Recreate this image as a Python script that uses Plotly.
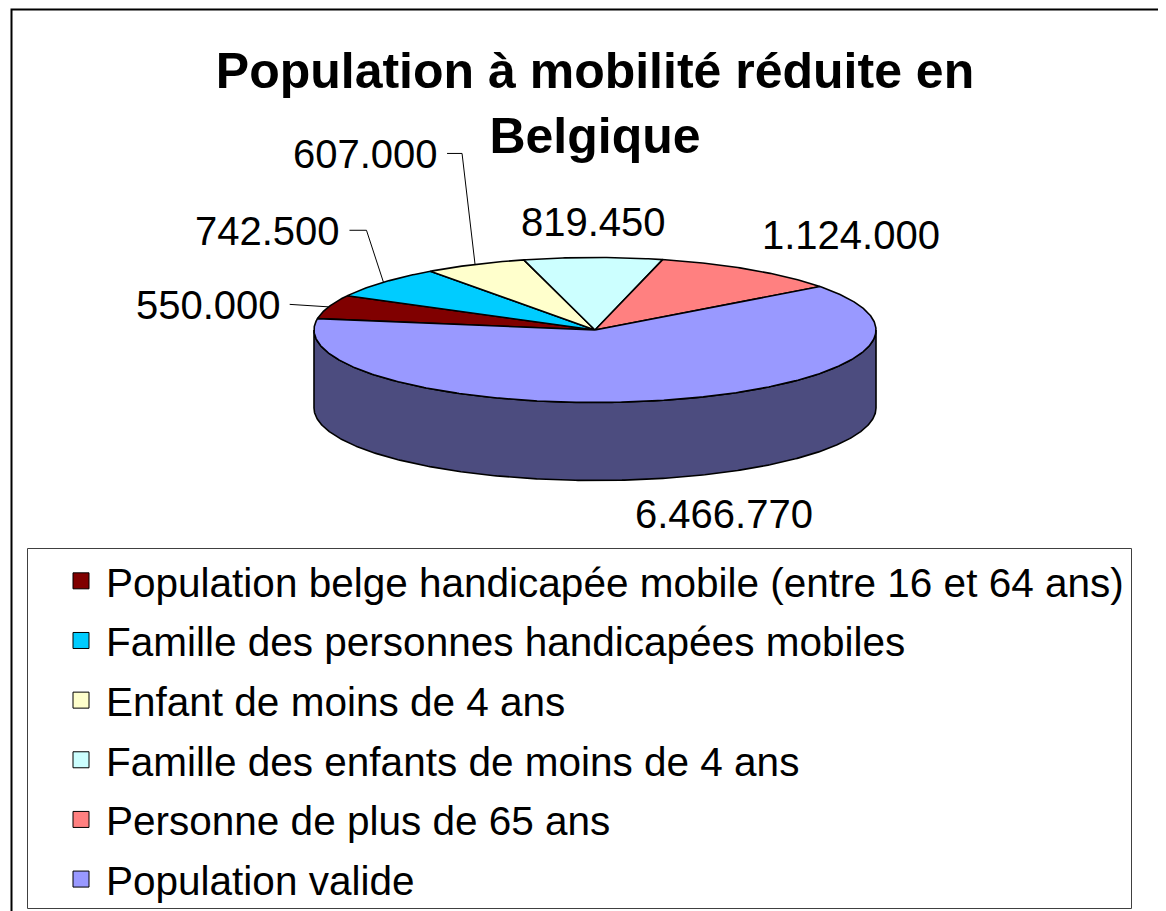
import math
import plotly.graph_objects as go

# ---------------- data ----------------
CATEGORIES = [
    "Population belge handicapée mobile (entre 16 et 64 ans)",
    "Famille des personnes handicapées mobiles",
    "Enfant de moins de 4 ans",
    "Famille des enfants de moins de 4 ans",
    "Personne de plus de 65 ans",
    "Population valide",
]
VALUES = [550000, 742500, 607000, 819450, 1124000, 6466770]
COLORS = ["#800000", "#00CCFF", "#FFFFCC", "#CCFFFF", "#FF8080", "#9999FF"]
TITLE = "Population à mobilité réduite en<br>Belgique"

# ---------------- geometry / style (page pixel space) ----------------
W, H = 1166, 911
OFF = 8                # page body margin: the figure is drawn 8px in from the page corner
CX, CY, RX, RY, DEPTH = 595, 330, 281, 72.5, 78
START = 171.0          # angle where the first slice starts; slices run clockwise
FONT = "Liberation Sans, Arial, sans-serif"
# label placement relative to the slice anchor: dx, dy, xanchor, leader elbow (None = no leader)
LABEL_LAYOUT = [
    (-46, -1.5, "right", 0),
    (-41, -51, "right", 17),
    (-35, -110, "right", 15),
    (0, -36, "center", None),
    (101, -35, "center", None),
    (61, 36, "center", None),
]
LEGEND_BOX = (27, 548, 1131, 908)
FRAME = (11.5, OFF + 1.5)


def px_x(x):
    return (x - OFF) / W


def px_y(y):
    return 1 - (y - OFF) / H


def ell(t, dz=0.0):
    r = math.radians(t)
    return CX + RX * math.cos(r), CY - RY * math.sin(r) + dz


def arc(t0, t1, per_deg=2):
    n = max(2, int(abs(t1 - t0) * per_deg) + 1)
    return [t0 + (t1 - t0) * i / (n - 1) for i in range(n)]


def darker(hexc, f=0.5):
    h = hexc.lstrip("#")
    r, g, b = (int(h[i:i + 2], 16) for i in (0, 2, 4))
    return "rgb(%d,%d,%d)" % (int(r * f), int(g * f), int(b * f))


total = sum(VALUES)
spans = []
a = START
for v in VALUES:
    s = 360.0 * v / total
    spans.append((a - s, a))
    a -= s

fig = go.Figure()

# side walls (front half only)
for (lo, hi), col in zip(spans, COLORS):
    for k in (-360, 0, 360):
        s_lo, s_hi = max(lo, -180 + k), min(hi, 0 + k)
        if s_hi > s_lo:
            ts = arc(s_lo, s_hi)
            top = [ell(t) for t in ts]
            bot = [ell(t, DEPTH) for t in reversed(ts)]
            pts = top + bot + [top[0]]
            fig.add_trace(go.Scatter(
                x=[p[0] for p in pts], y=[p[1] for p in pts],
                mode="lines", fill="toself", fillcolor=darker(col),
                line=dict(color="black", width=1.6),
                showlegend=False, hoverinfo="skip"))

# top faces
for (lo, hi), col, cat, v in zip(spans, COLORS, CATEGORIES, VALUES):
    ts = arc(hi, lo)
    pts = [(CX, CY)] + [ell(t) for t in ts] + [(CX, CY)]
    fig.add_trace(go.Scatter(
        x=[p[0] for p in pts], y=[p[1] for p in pts],
        mode="lines", fill="toself", fillcolor=col,
        line=dict(color="black", width=1.6),
        showlegend=False, name=cat, text=f"{v:,}".replace(",", "."),
        hoverinfo="name+text"))

# legend entries
for i, (cat, col) in enumerate(zip(CATEGORIES, COLORS)):
    fig.add_trace(go.Scatter(
        x=[None], y=[None], mode="markers", name=cat, legendgroup=str(i),
        marker=dict(symbol="square", size=16, color=col,
                    line=dict(color="black", width=1))))

# data labels + leader lines
annotations = []
for (lo, hi), v, (dx, dy, xa, elbow) in zip(spans, VALUES, LABEL_LAYOUT):
    mid = (lo + hi) / 2
    front = math.sin(math.radians(mid)) < 0
    ax_, ay_ = ell(mid, DEPTH if front else 0)
    tx, ty = ax_ + dx, ay_ + dy
    annotations.append(dict(
        x=tx, y=ty, xref="x", yref="y", text=f"{v:,}".replace(",", "."),
        showarrow=False, xanchor=xa, yanchor="middle",
        font=dict(size=40, family=FONT, color="black")))
    if elbow is not None:
        sx, sy = tx + 7, ty - 1
        fig.add_trace(go.Scatter(
            x=[sx, sx + elbow, ax_], y=[sy, sy, ay_], mode="lines",
            line=dict(color="black", width=1), showlegend=False, hoverinfo="skip"))

lx0, ly0, lx1, ly1 = LEGEND_BOX
fx, fy = FRAME
fig.update_layout(
    width=W, height=H,
    margin=dict(l=0, r=0, t=0, b=0),
    paper_bgcolor="white", plot_bgcolor="white",
    xaxis=dict(range=[OFF, W + OFF], visible=False, fixedrange=True),
    yaxis=dict(range=[H + OFF, OFF], visible=False, fixedrange=True),
    title=dict(text="<b>" + TITLE + "</b>", x=px_x(595), xanchor="center",
               y=px_y(88), yanchor="top", yref="container",
               font=dict(size=50, family=FONT, color="black")),
    annotations=annotations,
    legend=dict(x=px_x(56), y=px_y(ly0), xanchor="left", yanchor="top",
                bgcolor="rgba(0,0,0,0)", borderwidth=0,
                font=dict(size=40.5, family=FONT, color="black"),
                itemwidth=40, traceorder="grouped", tracegroupgap=4),
    shapes=[
        dict(type="path", xref="x", yref="y",
             path=f"M {fx} 930 L {fx} {fy} L 1190 {fy}",
             line=dict(color="black", width=2)),
        dict(type="rect", xref="x", yref="y", layer="below",
             x0=lx0 + 0.5, y0=ly0 + 0.5, x1=lx1 + 0.5, y1=ly1 + 0.5,
             line=dict(color="#404040", width=1), fillcolor="white"),
    ],
    showlegend=True,
)

fig.write_html("out.html")
